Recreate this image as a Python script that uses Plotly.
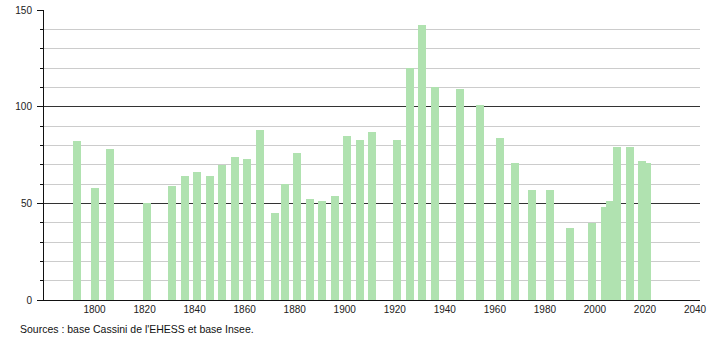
import plotly.graph_objects as go

years = [1793, 1800, 1806, 1821, 1831, 1836, 1841, 1846, 1851, 1856, 1861, 1866,
         1872, 1876, 1881, 1886, 1891, 1896, 1901, 1906, 1911, 1921, 1926, 1931,
         1936, 1946, 1954, 1962, 1968, 1975, 1982, 1990, 1999, 2004, 2006, 2009,
         2014, 2019, 2021]
population = [82, 58, 78, 50, 59, 64, 66, 64, 70, 74, 73, 88,
              45, 60, 76, 52, 51, 54, 85, 83, 87, 83, 120, 142,
              110, 109, 101, 84, 71, 57, 57, 37, 40, 48, 51, 79,
              79, 72, 71]
x_ticks = [1800, 1820, 1840, 1860, 1880, 1900, 1920, 1940, 1960, 1980, 2000, 2020, 2040]
y_ticks = [0, 50, 100, 150]
source = "Sources : base Cassini de l'EHESS et base Insee."

FONT = "Liberation Sans, Arial, sans-serif"

fig = go.Figure()
fig.add_trace(go.Bar(
    x=years, y=population, width=3.2,
    marker=dict(color="#b0e2b0", line=dict(width=0)),
    hoverinfo="x+y",
))

fig.update_layout(
    width=710, height=340,
    margin=dict(l=44, r=10, t=10, b=40, autoexpand=False),
    paper_bgcolor="white", plot_bgcolor="white",
    showlegend=False, bargap=0,
    font=dict(family=FONT, size=10, color="#222"),
    xaxis=dict(
        range=[1779.8, 2042.0], tickvals=x_ticks, ticktext=[str(v) for v in x_ticks],
        showgrid=False, zeroline=False, showline=True, linecolor="#111", linewidth=1,
        ticks="", ticklen=0, automargin=False,
        tickfont=dict(family=FONT, size=10, color="#222"),
    ),
    yaxis=dict(
        range=[0, 150], tickvals=y_ticks, ticktext=[str(v) for v in y_ticks],
        showgrid=True, gridcolor="#333", gridwidth=1, zeroline=False,
        showline=True, linecolor="#111", linewidth=1, automargin=False,
        ticks="outside", ticklen=6, tickcolor="#111", ticklabelstandoff=3,
        tickfont=dict(family=FONT, size=10, color="#222"),
        minor=dict(dtick=10, tick0=0, showgrid=True, gridcolor="#cccccc", gridwidth=1,
                   ticks="outside", ticklen=3, tickcolor="#111"),
    ),
    annotations=[dict(
        text=source, xref="paper", yref="paper", x=-0.04, y=-0.1,
        xanchor="left", yanchor="middle", showarrow=False,
        font=dict(family=FONT, size=10.5, color="#111"),
    )],
)

fig.write_html("out.html")
